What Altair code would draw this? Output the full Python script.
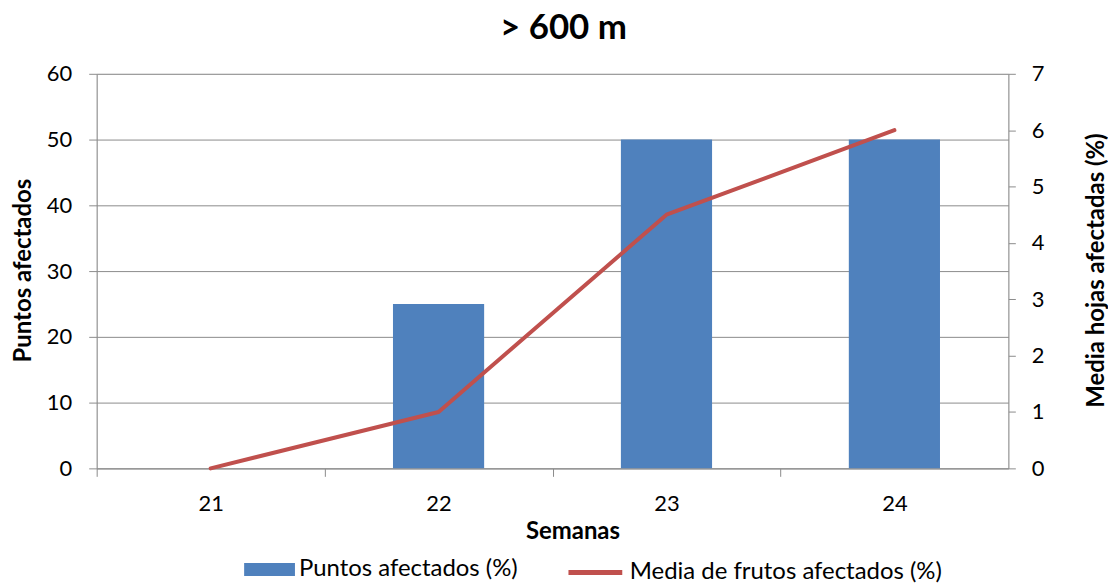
import altair as alt
import pandas as pd

# ---- data ----
weeks = ["21", "22", "23", "24"]
puntos = [0, 25, 50, 50]
media = [0, 1, 4.5, 6]
left_ticks = [0, 10, 20, 30, 40, 50, 60]
right_ticks = [0, 1, 2, 3, 4, 5, 6, 7]
bar_name = "Puntos afectados (%)"
line_name = "Media de frutos afectados (%)"
chart_title = "> 600 m"

df = pd.DataFrame({"semana": weeks, "puntos": puntos, "media": media})

# ---- style ----
W, H = 915, 396
STEP = W / 4
FONT = "Lato"
GRID = "#8c8c8c"
TXT = "#000000"
BAR_C = "#4F81BD"
LINE_C = "#C0504D"
TITLE_SIZE = 24
LEG_SIZE = 24

x_enc = alt.X(
    "semana:N",
    sort=weeks,
    scale=alt.Scale(type="band", paddingInner=0.6, paddingOuter=0.3),
    axis=alt.Axis(
        title="Semanas",
        bandPosition=0,
        tickOffset=-0.3 * STEP,
        labelOffset=0.3 * STEP,
        labelAngle=0,
        labelFont=FONT, labelFontSize=22, labelColor=TXT, labelPadding=17,
        tickSize=8, tickColor=GRID, domainColor=GRID, grid=False,
        titleFont=FONT, titleFontSize=TITLE_SIZE, titleFontWeight="bold",
        titleColor=TXT, titleX=W / 2 + 20, titleY=63, titleBaseline="middle",
    ),
)

bars = (
    alt.Chart(df)
    .transform_calculate(serie=f"'{bar_name}'")
    .mark_bar()
    .encode(
        x=x_enc,
        y=alt.Y(
            "puntos:Q",
            scale=alt.Scale(domain=[0, 60]),
            axis=alt.Axis(
                title="Puntos afectados", values=left_ticks, orient="left",
                grid=True, gridColor=GRID, tickSize=8, tickColor=GRID,
                domainColor=GRID, labelFont=FONT, labelFontSize=22,
                labelColor=TXT, labelPadding=17,
                titleFont=FONT, titleFontSize=TITLE_SIZE, titleFontWeight="bold",
                titleColor=TXT, titleAngle=270, titleX=-73, titleY=H / 2 - 1,
                titleBaseline="middle",
            ),
        ),
        color=alt.Color(
            "serie:N",
            scale=alt.Scale(domain=[bar_name], range=[BAR_C]),
            legend=alt.Legend(
                title=None, orient="none", legendX=148, legendY=472,
                symbolType="M-1,-0.255H1V0.255H-1Z", symbolSize=2601,
                symbolStrokeWidth=0, labelFont=FONT, labelFontSize=LEG_SIZE,
                labelColor=TXT, labelOffset=4, padding=0, labelLimit=600,
            ),
        ),
    )
)

line = (
    alt.Chart(df)
    .transform_calculate(serie2=f"'{line_name}'")
    .mark_line(strokeWidth=4, strokeJoin="round", strokeCap="round")
    .encode(
        x=x_enc,
        y=alt.Y(
            "media:Q",
            scale=alt.Scale(domain=[0, 7]),
            axis=alt.Axis(
                title="Media hojas afectadas (%)", values=right_ticks,
                orient="right", grid=False, tickSize=7, tickColor=GRID,
                domainColor=GRID, labelFont=FONT, labelFontSize=22,
                labelColor=TXT, labelPadding=16,
                titleFont=FONT, titleFontSize=TITLE_SIZE, titleFontWeight="bold",
                titleColor=TXT, titleAngle=270, titleX=88, titleY=H / 2 - 1,
                titleBaseline="middle",
            ),
        ),
        stroke=alt.Stroke(
            "serie2:N",
            scale=alt.Scale(domain=[line_name], range=[LINE_C]),
            legend=alt.Legend(
                title=None, orient="none", legendX=471, legendY=471,
                symbolType="stroke", symbolSize=2916, symbolStrokeWidth=5,
                labelFont=FONT, labelFontSize=LEG_SIZE, labelColor=TXT,
                labelOffset=5, padding=0, labelLimit=600,
            ),
        ),
    )
)

chart = (
    alt.layer(bars, line)
    .resolve_scale(y="independent")
    .properties(
        width=W,
        height=H,
        title=alt.TitleParams(
            chart_title, font=FONT, fontSize=35, fontWeight="bold",
            color=TXT, anchor="middle", frame="group", offset=-11,
            baseline="alphabetic", dx=11,
        ),
        autosize=alt.AutoSizeParams(type="none"),
        padding={"left": 89, "top": 65, "right": 100, "bottom": 114},
    )
    .configure_view(strokeOpacity=0)
    .configure(background="white")
)

chart.save("out.html", embed_options={"renderer": "svg", "actions": False})
